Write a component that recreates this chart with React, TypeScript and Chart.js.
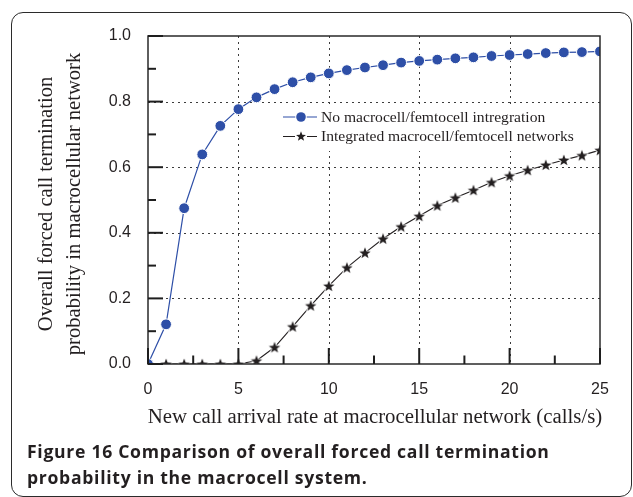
import React, { useEffect, useRef } from "react";
import { Chart, registerables } from "chart.js";

Chart.register(...registerables);

const arrivalRates = [0, 1, 2, 3, 4, 5, 6, 7, 8, 9, 10, 11, 12, 13, 14, 15, 16, 17, 18, 19, 20, 21, 22, 23, 24, 25];
const noIntegration = [0, 0.121, 0.475, 0.639, 0.726, 0.777, 0.813, 0.838, 0.859, 0.874, 0.886, 0.896, 0.904, 0.911, 0.919, 0.924, 0.928, 0.932, 0.935, 0.939, 0.942, 0.945, 0.948, 0.95, 0.951, 0.953];
const integrated = [0, 0, 0, 0, 0, 0, 0.01, 0.051, 0.114, 0.178, 0.238, 0.294, 0.339, 0.382, 0.419, 0.451, 0.483, 0.507, 0.53, 0.554, 0.574, 0.591, 0.607, 0.622, 0.636, 0.652];
const xMajorTicks = [0, 5, 10, 15, 20, 25];
const xMinorTicks = [2.5, 7.5, 12.5, 17.5, 22.5];
const yMajorTicks = [0, 0.2, 0.4, 0.6, 0.8, 1.0];
const yMinorTicks = [0.1, 0.3, 0.5, 0.7, 0.9];
const seriesLabels = ["No macrocell/femtocell intregration", "Integrated macrocell/femtocell networks"];
const xTitle = "New call arrival rate at macrocellular network (calls/s)";
const yTitle = ["Overall forced call termination", "probability in macrocellular network"];
const captionLines = [
  { bold: "Figure 16", rest: " Comparison of overall forced call termination" },
  { bold: "", rest: "probability in the macrocell system." },
];

const BLUE = "#2e4fa7";
const INK = "#231f20";
const SERIF = "'Liberation Serif', 'Times New Roman', serif";
const SANS = "'Liberation Sans', Arial, sans-serif";

function makeStar(size: number, outer: number, inner: number, fill: string, stroke?: string) {
  const c = document.createElement("canvas");
  c.width = size;
  c.height = size;
  const ctx = c.getContext("2d")!;
  const cx = size / 2;
  const cy = size / 2 + 0.5;
  ctx.beginPath();
  for (let i = 0; i < 10; i++) {
    const r = i % 2 === 0 ? outer : inner;
    const a = -Math.PI / 2 + (i * Math.PI) / 5;
    const px = cx + r * Math.cos(a);
    const py = cy + r * Math.sin(a);
    if (i === 0) ctx.moveTo(px, py);
    else ctx.lineTo(px, py);
  }
  ctx.closePath();
  if (stroke) {
    ctx.lineWidth = 2;
    ctx.strokeStyle = stroke;
    ctx.lineJoin = "round";
    ctx.stroke();
  }
  ctx.fillStyle = fill;
  ctx.fill();
  return c;
}

export default function App() {
  const canvasRef = useRef<HTMLCanvasElement | null>(null);

  useEffect(() => {
    const canvas = canvasRef.current;
    if (!canvas) return;
    const star = makeStar(16, 6, 2.5, INK, "#ffffff");
    const legendStar = makeStar(14, 5.2, 2.2, INK);

    const decorPlugin = {
      id: "decor",
      beforeDatasetsDraw(chart: any) {
        const { ctx, chartArea: a, scales } = chart;
        const x = scales.x;
        const y = scales.y;
        ctx.save();
        ctx.strokeStyle = "#3c3c3c";
        ctx.lineWidth = 1;
        ctx.setLineDash([2, 4]);
        for (const v of xMajorTicks) {
          if (v === xMajorTicks[0] || v === xMajorTicks[xMajorTicks.length - 1]) continue;
          const px = Math.round(x.getPixelForValue(v)) + 0.5;
          ctx.beginPath();
          ctx.moveTo(px, a.top);
          ctx.lineTo(px, a.bottom);
          ctx.stroke();
        }
        for (const v of yMajorTicks) {
          if (v === yMajorTicks[0] || v === yMajorTicks[yMajorTicks.length - 1]) continue;
          const py = Math.round(y.getPixelForValue(v)) + 0.5;
          ctx.beginPath();
          ctx.moveTo(a.left, py);
          ctx.lineTo(a.right, py);
          ctx.stroke();
        }
        ctx.setLineDash([]);
        // legend background
        ctx.fillStyle = "#ffffff";
        ctx.fillRect(280, 105, 305, 46);
        ctx.restore();
      },
      afterDatasetsDraw(chart: any) {
        const { ctx, chartArea: a, scales } = chart;
        const x = scales.x;
        const y = scales.y;
        ctx.save();
        // plot box
        ctx.strokeStyle = "#2a2a2a";
        ctx.lineWidth = 1.5;
        ctx.strokeRect(a.left, a.top, a.right - a.left, a.bottom - a.top);
        // inward ticks
        ctx.lineWidth = 2;
        ctx.strokeStyle = "#1e1e1e";
        const tick = (x1: number, y1: number, x2: number, y2: number) => {
          ctx.beginPath();
          ctx.moveTo(x1, y1);
          ctx.lineTo(x2, y2);
          ctx.stroke();
        };
        for (const v of xMajorTicks) {
          const px = x.getPixelForValue(v);
          tick(px, a.bottom, px, a.bottom - 16);
        }
        for (const v of xMinorTicks) {
          const px = x.getPixelForValue(v);
          tick(px, a.bottom, px, a.bottom - 8.5);
        }
        for (const v of yMajorTicks) {
          const py = y.getPixelForValue(v);
          tick(a.left, py, a.left + 15, py);
        }
        for (const v of yMinorTicks) {
          const py = y.getPixelForValue(v);
          tick(a.left, py, a.left + 8, py);
        }
        // legend
        const rows = [
          { y: 117, color: BLUE, kind: "circle" },
          { y: 136.5, color: INK, kind: "star" },
        ];
        rows.forEach((r, i) => {
          ctx.strokeStyle = r.color;
          ctx.lineWidth = 1.2;
          ctx.beginPath();
          ctx.moveTo(283, r.y);
          ctx.lineTo(317, r.y);
          ctx.stroke();
          if (r.kind === "circle") {
            ctx.fillStyle = "#ffffff";
            ctx.beginPath();
            ctx.arc(301, r.y, 5.8, 0, Math.PI * 2);
            ctx.fill();
            ctx.fillStyle = r.color;
            ctx.beginPath();
            ctx.arc(301, r.y, 4.8, 0, Math.PI * 2);
            ctx.fill();
          } else {
            ctx.fillStyle = "#ffffff";
            ctx.fillRect(295, r.y - 6, 12, 12);
            ctx.drawImage(legendStar, 301 - 7, r.y - 7.5);
          }
          ctx.fillStyle = INK;
          ctx.font = `15.6px ${SERIF}`;
          ctx.textAlign = "left";
          ctx.textBaseline = "alphabetic";
          ctx.fillText(seriesLabels[i], 321, r.y + 4.8);
        });
        ctx.restore();
      },
      afterDraw(chart: any) {
        const { ctx, chartArea: a } = chart;
        ctx.save();
        ctx.fillStyle = INK;
        ctx.font = `20.8px ${SERIF}`;
        ctx.textAlign = "center";
        ctx.textBaseline = "alphabetic";
        ctx.fillText(xTitle, (a.left + a.right) / 2 + 1, 423);
        ctx.font = `20.6px ${SERIF}`;
        const cy = (a.top + a.bottom) / 2 + 4;
        yTitle.forEach((t, i) => {
          ctx.save();
          ctx.translate(52 + i * 28, cy);
          ctx.rotate(-Math.PI / 2);
          ctx.fillText(t, 0, 0);
          ctx.restore();
        });
        ctx.restore();
      },
    };

    const chart = new Chart(canvas, {
      type: "line",
      data: {
        datasets: [
          {
            label: seriesLabels[0],
            data: arrivalRates.map((r, i) => ({ x: r, y: noIntegration[i] })),
            borderColor: BLUE,
            backgroundColor: BLUE,
            borderWidth: 1.2,
            pointRadius: 5.4,
            pointBorderColor: "#ffffff",
            pointBorderWidth: 1,
            pointBackgroundColor: BLUE,
            pointStyle: "circle",
            tension: 0,
            clip: 0,
          },
          {
            label: seriesLabels[1],
            data: arrivalRates.map((r, i) => ({ x: r, y: integrated[i] })),
            borderColor: INK,
            backgroundColor: INK,
            borderWidth: 1.1,
            pointStyle: star as any,
            pointRadius: 6,
            tension: 0,
            clip: 0,
          },
        ],
      },
      options: {
        animation: false,
        responsive: false,
        events: [],
        layout: { padding: { top: 36, right: 33, left: 0, bottom: 0 } },
        plugins: {
          legend: { display: false },
          tooltip: { enabled: false },
          title: { display: false },
        },
        scales: {
          x: {
            type: "linear",
            min: 0,
            max: 25,
            afterFit: (s: any) => {
              s.height = 76;
            },
            afterBuildTicks: (s: any) => {
              s.ticks = xMajorTicks.map((v) => ({ value: v }));
            },
            grid: { display: false, drawTicks: false },
            border: { display: false },
            ticks: {
              padding: 16,
              color: INK,
              font: { family: SANS, size: 16 },
              callback: (v: any) => String(v),
            },
          },
          y: {
            type: "linear",
            min: 0,
            max: 1,
            afterFit: (s: any) => {
              s.width = 148;
            },
            afterBuildTicks: (s: any) => {
              s.ticks = yMajorTicks.map((v) => ({ value: v }));
            },
            grid: { display: false, drawTicks: false },
            border: { display: false },
            ticks: {
              padding: 17,
              color: INK,
              font: { family: SANS, size: 16 },
              callback: (v: any) => Number(v).toFixed(1),
            },
          },
        },
      },
      plugins: [decorPlugin],
    } as any);

    return () => chart.destroy();
  }, []);

  return (
    <div style={{ position: "absolute", left: 0, top: 0, width: 633, height: 497, overflow: "hidden", background: "#fff" }}>
      <div
        style={{
          position: "absolute",
          left: 11,
          top: 11.5,
          width: 621,
          height: 485,
          boxSizing: "border-box",
          border: "1.6px solid #2b2b2b",
          borderRadius: 12,
        }}
      />
      <canvas ref={canvasRef} width={633} height={440} style={{ position: "absolute", left: 0, top: 0, width: 633, height: 440 }} />
      <div
        style={{
          position: "absolute",
          left: 27,
          top: 437.5,
          width: 600,
          whiteSpace: "nowrap",
          fontFamily: "'Open Sans', 'Noto Sans', sans-serif",
          fontWeight: 700,
          fontSize: 17.6,
          letterSpacing: "0.7px",
          lineHeight: "26px",
          color: INK,
        }}
      >
        {captionLines.map((l, i) => (
          <div key={i}>
            {l.bold}
            {l.rest}
          </div>
        ))}
      </div>
    </div>
  );
}
